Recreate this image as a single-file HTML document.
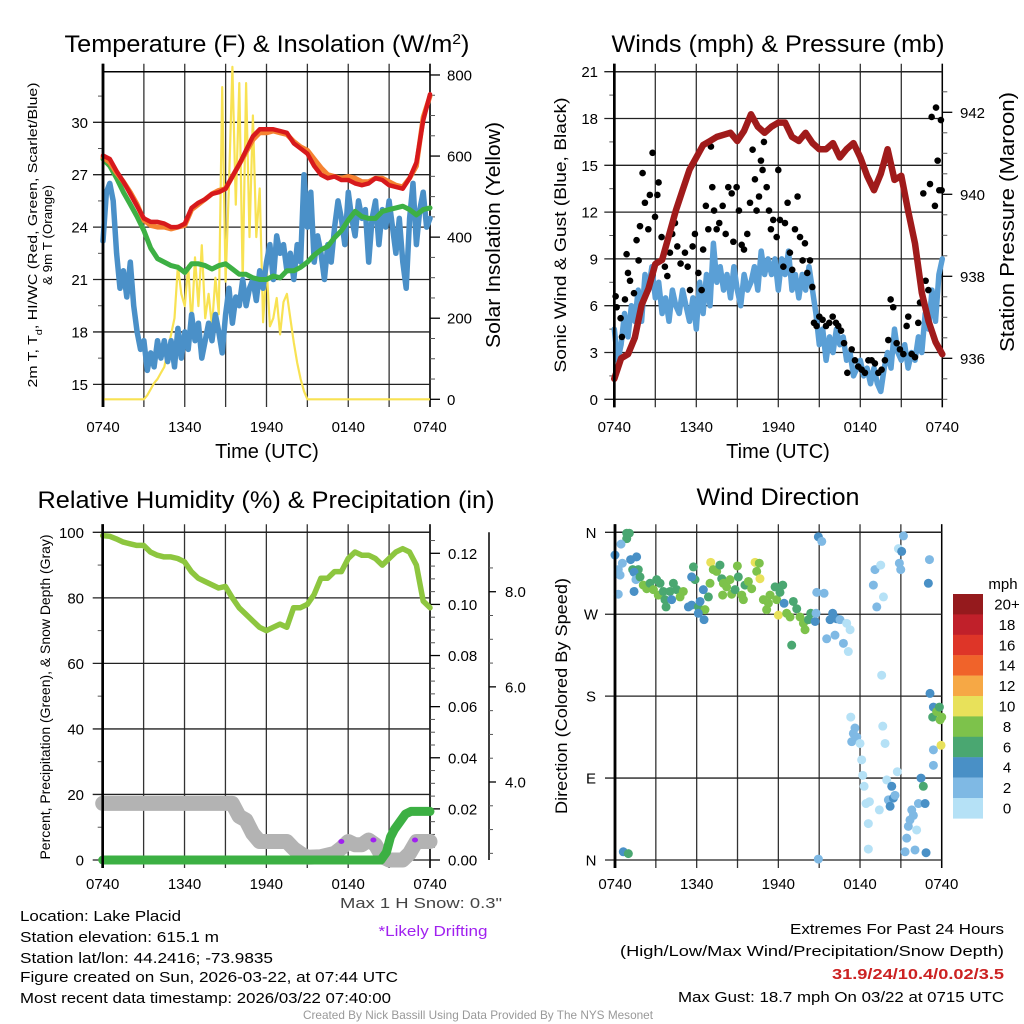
<!DOCTYPE html>
<html><head><meta charset="utf-8"><title>Lake Placid Meteogram</title>
<style>
html,body{margin:0;padding:0;background:#fff;}
svg{display:block;font-family:"Liberation Sans",Arial,sans-serif;}
</style></head>
<body>
<svg id="chart" xmlns="http://www.w3.org/2000/svg" width="1024" height="1024" viewBox="0 0 1024 1024">
<rect x="0" y="0" width="1024" height="1024" fill="#fff"/>
</svg>
<script>
// ---------- data ----------
const timeLabels = ["0740","1340","1940","0140","0740"];
const timeLabelHours = [0,6,12,18,24];
const tempT = [28.1,27.9,27.2,26.6,25.9,25.2,24.5,24.3,24.3,24.2,24.0,24.0,24.2,25.1,25.4,25.6,25.9,26.0,26.2,26.9,27.6,28.4,29.2,29.6,29.6,29.6,29.5,29.4,28.8,28.5,28.2,27.5,27.0,26.8,26.9,26.7,26.7,26.5,26.4,26.5,26.8,26.7,26.4,26.3,26.2,26.8,27.7,30.1,31.6];
const temp9m = [28.0,27.7,27.1,26.6,26.0,25.3,24.4,24.1,24.0,24.0,23.9,24.0,24.1,25.0,25.3,25.6,25.9,26.1,26.2,26.9,27.6,28.3,29.0,29.4,29.4,29.5,29.4,29.3,28.9,28.6,28.4,27.9,27.4,27.0,26.9,26.8,26.9,26.8,26.6,26.6,26.8,26.8,26.6,26.4,26.3,26.8,27.5,30.3,31.5];
const dewpoint = [27.9,27.5,26.8,26.0,25.3,24.6,23.8,22.8,22.2,22.0,21.8,21.7,21.4,21.9,21.9,21.8,21.6,21.8,21.9,21.6,21.3,21.3,21.1,21.0,21.0,21.2,21.1,21.5,21.5,21.7,22.0,22.4,22.7,22.9,23.4,23.8,24.4,24.9,24.6,24.5,24.5,24.9,25.0,25.1,25.2,25.0,24.7,25.0,25.1];
const windChill = [23.2,26,26.5,25.5,22.5,20.5,21.5,20.0,22.0,19.5,18,17,17.5,15.8,16.8,16.0,17.5,16.5,17.5,16.3,17.5,16.0,18.2,16.5,18.0,17.0,19.0,17.5,18.5,16.5,17.5,18.5,17.5,19.0,18.0,16.8,19.0,20.5,18.5,20.0,19.5,21.0,19.5,20.5,21.0,19.8,21.5,20.5,22.0,23.0,21.0,23.5,22.5,23.0,21.5,22.5,21.0,23.0,22.0,27.0,24.0,26,22,23.5,22.5,21.0,23.0,22.0,24.0,25.5,24.5,23.0,26.0,24.5,23.5,25.5,24.5,25,22.0,24.5,25.5,23.0,25.0,24.0,25.5,24.0,22.5,24.5,22.0,20.5,24.5,26.5,23.0,25.0,26.0,24.0,24.5];
const solar = [0,0,0,0,0,0,0,0,0,0,0,0,0,10,25,40,50,65,80,120,160,200,330,260,230,330,180,350,230,380,200,260,180,300,210,770,290,530,820,480,780,290,780,400,700,400,520,190,330,180,200,250,160,240,260,200,140,90,50,20,0,0,0,0,0,0,0,0,0,0,0,0,0,0,0,0,0,0,0,0,0,0,0,0,0,0,0,0,0,0,0,0,0,0,0,0,0];
const pressure = [935.5,936.0,936.1,936.5,937.3,937.7,938.3,938.4,939.0,939.6,940.1,940.6,940.9,941.2,941.3,941.4,941.45,941.5,941.3,941.55,941.95,941.65,941.5,941.65,941.75,941.75,941.4,941.3,941.5,941.25,941.1,941.1,941.25,940.9,941.1,941.25,940.9,940.45,940.1,940.5,941.1,940.35,940.45,939.6,938.8,937.6,936.9,936.4,936.1];
const sonicWind = [4.5,2.5,3.5,5.5,4,6,5,7,5,8,7,8.5,6.5,7.5,5.5,6.5,5,7,6,5.5,7,6,5,6.5,4.5,7.5,5.5,8,6,10,7.5,8.5,7,8,6.5,8.5,7,6,8,7,7.5,8.5,7,9.5,8,9,8,9,7,9,8,9.5,7,8,6.5,8,7,8.5,7,5.5,3.5,4.5,2.5,4,3,4.5,3.5,4,2.5,3,1.5,2,2.5,1.5,2,1,2,1,0.5,2,3,2,4.5,3,2.5,3.5,2,3,2.5,4,3,5.5,4.5,7,5,8,9];
const gustTimes = [0.1,0.17,0.46,0.56,0.78,0.9,1.0,1.15,1.44,1.63,1.78,1.88,2.07,2.24,2.49,2.6,2.8,2.98,3.15,3.24,3.46,3.7,3.88,4.07,4.24,4.44,4.61,4.85,5.17,5.37,5.54,5.73,5.9,6.15,6.39,6.5,6.7,6.88,7.07,7.17,7.3,7.49,7.68,7.93,8.15,8.34,8.59,8.71,8.95,9.12,9.32,9.49,9.73,9.93,10.12,10.29,10.41,10.59,10.73,10.85,10.95,11.15,11.32,11.46,11.63,11.88,12.0,12.12,12.37,12.49,12.68,12.85,13.02,13.22,13.41,13.59,13.78,13.95,14.12,14.32,14.49,14.61,14.8,15.0,15.24,15.49,15.73,15.98,16.22,16.39,16.59,16.81,17.05,17.37,17.61,17.85,18.1,18.34,18.59,18.83,19.07,19.32,19.56,19.8,20.05,20.22,20.41,20.66,20.9,21.15,21.39,21.51,21.76,22.0,22.24,22.37,22.61,22.78,22.98,23.1,23.22,23.46,23.54,23.66,23.78,23.9,23.95];
const gustValues = [6.6,5.9,5.2,4.0,6.4,9.3,8.1,7.6,6.8,10.2,8.9,11.1,14.5,12.6,10.9,13.1,15.8,11.7,13.1,13.9,10.4,8.5,7.9,9.4,10.6,11.3,9.8,8.7,9.4,8.5,7.0,9.8,10.6,8.1,7.0,9.6,12.4,10.9,16.2,13.6,12.1,10.9,11.3,12.4,10.6,13.6,13.2,10.1,13.6,12.1,9.9,9.6,10.6,12.6,16.0,14.1,12.1,13.0,15.3,14.7,16.5,13.6,12.1,10.9,11.5,10.4,14.7,11.5,8.5,11.3,12.6,9.4,8.3,10.9,13.0,10.4,8.9,10.0,8.1,8.9,7.2,4.9,4.7,5.3,5.1,4.7,4.9,5.3,4.9,4.7,4.4,3.6,1.7,3.2,2.5,2.1,1.9,1.7,2.5,2.5,2.3,1.7,1.9,2.5,3.8,6.4,5.9,3.6,3.2,2.9,4.7,5.3,2.9,2.7,4.9,6.2,13.2,7.6,7.0,13.8,18.1,12.4,18.7,15.3,13.4,17.9,13.4];
const relHum = [99,98.8,98,97,96.5,96,96,94,93,92.5,92.5,92,91,88,86,85,84,83,83.5,80,77,75,73,71,70,71,72,71,77,77,78,81,86,86,88,88,92,94,93,93,92,90,92,94,95,94,90,79,77];
const snowTimes = [0,9.5,10,10.5,11,11.5,13.5,14,14.5,15,16,17,17.5,18,18.5,19,19.5,20,20.5,21,22,22.5,23,24];
const snowDepth = [3.55,3.55,3.28,3.2,2.92,2.75,2.75,2.6,2.5,2.42,2.43,2.5,2.61,2.75,2.68,2.68,2.78,2.68,2.43,2.36,2.36,2.5,2.75,2.75];
const precipTimes = [0,20.4,20.8,21.1,21.4,21.8,22.2,22.6,24];
const precipAccum = [0,0,0.003,0.009,0.012,0.015,0.018,0.019,0.019];
const driftTimes = [17.5,19.85,22.9];
const driftDepth = [2.75,2.78,2.78];
const dirTimes = [0.0,0.86,1.05,0.86,0.44,0.24,0.37,0.54,0.24,1.15,1.59,1.3,1.71,1.4,1.54,1.84,1.4,2.08,2.33,2.57,2.82,3.06,3.31,3.18,3.55,3.67,3.75,4.04,4.29,4.53,4.78,5.02,4.16,5.39,5.63,5.76,5.88,5.63,6.12,6.25,6.49,6.61,6.12,6.54,6.86,6.98,7.03,7.22,7.47,7.71,7.84,7.96,7.91,8.2,8.45,8.57,8.82,8.99,9.06,9.31,9.43,9.55,9.8,10.04,10.29,10.41,10.6,10.65,10.9,11.14,11.27,11.39,11.76,11.88,12.0,12.12,12.32,12.42,12.61,12.86,12.98,13.1,13.35,13.59,13.84,13.96,14.21,14.38,14.7,14.77,14.82,14.94,15.19,15.36,15.55,15.8,15.99,16.29,16.16,16.53,16.78,17.02,17.14,17.27,14.94,0.61,0.98,17.32,17.63,17.51,17.76,17.39,18.0,18.12,18.2,18.3,18.44,18.69,18.61,18.61,18.98,19.1,19.23,19.52,19.72,19.59,19.67,19.84,19.96,19.42,20.08,20.33,20.45,20.21,20.57,20.74,20.89,20.82,21.06,20.99,21.19,21.31,21.43,21.55,21.67,21.8,21.92,22.04,22.16,22.29,22.48,22.65,22.78,22.85,23.02,23.1,23.14,23.39,23.34,23.63,23.83,23.88,24.0,23.39,23.39,23.95];
const dirDegrees = [335,359,359,353,347,319,313,326,292,330,333,319,319,316,308,311,295,302,298,304,297,308,304,291,295,286,278,295,304,297,289,295,286,278,280,322,308,311,278,284,297,275,271,264,289,304,327,319,317,324,309,304,291,300,308,292,297,323,311,291,286,302,306,298,327,317,326,309,286,275,282,291,300,286,269,294,302,282,271,267,236,284,276,267,260,253,264,271,262,271,294,355,350,293,243,264,271,265,247,264,238,260,229,253,1,9,7,157,145,139,135,130,128,110,93,81,62,64,40,12,302,319,278,324,289,203,147,128,88,55,66,81,68,59,71,97,326,342,339,319,356,9,24,37,44,55,49,11,33,62,90,81,62,8,304,330,183,168,157,163,168,154,157,121,104,126];
const dirSpeed = [5,7,7,7,3,3,3,3,3,5,5,7,7,5,3,7,5,9,9,7,9,7,7,9,7,7,7,7,7,7,9,9,5,5,5,7,7,5,7,5,5,9,5,5,7,9,11,9,9,7,7,9,9,9,9,9,7,9,7,9,9,7,9,9,11,9,9,11,9,9,9,9,7,9,11,7,7,5,9,9,7,7,7,9,9,9,7,7,5,3,3,5,3,3,3,5,5,5,3,3,3,1,1,1,3,5,7,1,3,3,3,3,1,1,1,1,1,1,1,1,3,3,3,1,1,1,1,1,1,1,3,5,5,5,3,1,3,1,5,3,3,3,3,3,3,3,3,3,1,3,5,7,5,5,5,3,5,5,7,9,7,9,9,3,3,11];
const speedBinLabels = ["20+","18","16","14","12","10","8","6","4","2","0"];
const speedBinColors = ["#951a1d","#c0202a","#de3528","#f0632a","#f6a845","#e8e15a","#7dc24b","#4aa771","#4990c6","#7fb9e4","#b5e1f6"];

// ---------- helpers ----------
const NS = "http://www.w3.org/2000/svg";
const svg = document.getElementById("chart");
function mk(tag, attrs, parent){
  const e = document.createElementNS(NS, tag);
  for (const k in attrs) e.setAttribute(k, attrs[k]);
  (parent || svg).appendChild(e);
  return e;
}
function txt(x, y, s, size, anchor, parent, fill){
  const e = mk("text", {x:x, y:y, "font-size":size, "text-anchor":anchor||"start", fill:fill||"#000"}, parent);
  e.textContent = s;
  return e;
}
function vtxt(x, y, s, size, len, parent){
  const e = mk("text", {x:x, y:y, "font-size":size, "text-anchor":"middle", transform:"rotate(-90 "+x+" "+y+")", textLength:len, lengthAdjust:"spacingAndGlyphs"}, parent);
  e.textContent = s;
  return e;
}
function pathFrom(xs, ys){
  let d = "";
  for (let i = 0; i < xs.length; i++) d += (i ? "L" : "M") + xs[i].toFixed(1) + "," + ys[i].toFixed(1);
  return d;
}
function regTimes(n){ const step = 24/(n-1); const a=[]; for(let i=0;i<n;i++) a.push(i*step); return a; }

// panel geometry
const P1 = {L:103, R:430, T:71.7, B:399};
const P2 = {L:614.3, R:942.3, T:71.7, B:399.3};
const P3 = {L:102.7, R:430, T:532.3, B:860};
const P4 = {L:615, R:941.7, T:532.3, B:860};
function xAxis(P){ return t => P.L + t/24*(P.R-P.L); }

function drawFrame(P, g, labelY){
  for (let t = 0; t <= 24; t += 3){
    const x = xAxis(P)(t);
    const l = mk("line", {x1:x, x2:x, y1:P.T-8, y2:P.B+8, stroke:(t===0?"#000":"#333"), "stroke-width":(t===0?2.6:1.3)}, g);
    
    
  }
  for (let i = 0; i < timeLabels.length; i++){
    const lb = txt(xAxis(P)(timeLabelHours[i]), labelY, timeLabels[i], 15, "middle", g);
    
    
  }
  const top = mk("line", {x1:P.L, x2:P.R, y1:P.T, y2:P.T, stroke:"#000", "stroke-width":1.5}, g);
  
  
  const rt = mk("line", {x1:P.R, x2:P.R, y1:P.T-8, y2:P.B+8, stroke:"#000", "stroke-width":1.5}, g);
  
  
}
function hGrid(P, g, y, labelText, labelX, anchor){
  const l = mk("line", {x1:P.L-10, x2:P.R, y1:y, y2:y, stroke:"#222", "stroke-width":1.3}, g);
  
  
  const t = txt(labelX, y+5.5, labelText, 15, anchor||"end", g);
  
  
}
function minorTick(x1, x2, y, g){
  const l = mk("line", {x1:x1, x2:x2, y1:y, y2:y, stroke:"#555", "stroke-width":1}, g);
  
  
}
function majorTick(x1, x2, y, g){
  const l = mk("line", {x1:x1, x2:x2, y1:y, y2:y, stroke:"#000", "stroke-width":1.3}, g);
  
  
}
function title(x, y, s, len, g){
  const t = mk("text", {x:x, y:y, "font-size":24, "text-anchor":"middle", textLength:len, lengthAdjust:"spacingAndGlyphs"}, g);
  t.textContent = s;
  return t;
}

// ================= PANEL 1: Temperature =================
const g1 = mk("g", {});


const x1 = xAxis(P1);
const yTemp = v => 122.3 + (30 - v) * 17.47;
const ySol = v => 399.3 - v * 0.4054;
drawFrame(P1, g1, 432);
for (let v = 15; v <= 30; v += 3) hGrid(P1, g1, yTemp(v), String(v), 88);
for (let v = 15; v <= 33; v += 1.5) if (v % 3) minorTick(P1.L-5, P1.L, yTemp(v), g1);
for (let v = 0; v <= 800; v += 50){
  if (v % 200 === 0){
    majorTick(P1.R, P1.R+10, ySol(v), g1);
    const t = txt(447, ySol(v)+5.5, String(v), 15, "start", g1);
    
    
  } else minorTick(P1.R, P1.R+5, ySol(v), g1);
}
{
  const ts = regTimes(solar.length);
  const pS = mk("path", {d:pathFrom(ts.map(x1), solar.map(ySol)), fill:"none", stroke:"#f8e253", "stroke-width":2.2, "stroke-linejoin":"round"}, g1);
  
  
  const tw = regTimes(windChill.length);
  const pW = mk("path", {d:pathFrom(tw.map(x1), windChill.map(yTemp)), fill:"none", stroke:"#4a90c8", "stroke-width":5.5, "stroke-linejoin":"round", "stroke-linecap":"round"}, g1);
  
  
  const td = regTimes(dewpoint.length);
  const pD = mk("path", {d:pathFrom(td.map(x1), dewpoint.map(yTemp)), fill:"none", stroke:"#3db044", "stroke-width":5, "stroke-linejoin":"round", "stroke-linecap":"round"}, g1);
  
  
  const t9 = regTimes(temp9m.length);
  const pO = mk("path", {d:pathFrom(t9.map(x1), temp9m.map(yTemp)), fill:"none", stroke:"#f58231", "stroke-width":5, "stroke-linejoin":"round", "stroke-linecap":"round"}, g1);
  
  
  const tt = regTimes(tempT.length);
  const pR = mk("path", {d:pathFrom(tt.map(x1), tempT.map(yTemp)), fill:"none", stroke:"#d7191c", "stroke-width":4.5, "stroke-linejoin":"round", "stroke-linecap":"round"}, g1);
  
  
}
{
  const lf = mk("line", {x1:P1.L, x2:P1.L, y1:P1.T-8, y2:P1.B+8, stroke:"#000", "stroke-width":2.6}, g1);
  
  
  const t = title(267, 52, "", 405, g1);
  t.innerHTML = 'Temperature (F) &amp; Insolation (W/m<tspan baseline-shift="super" font-size="15">2</tspan>)';
  
  
  const yl = mk("text", {x:37, y:235, "font-size":13, "text-anchor":"middle", transform:"rotate(-90 37 235)", textLength:305, lengthAdjust:"spacingAndGlyphs"}, g1);
  yl.innerHTML = '2m T, T<tspan baseline-shift="sub" font-size="9">d</tspan>, HI/WC (Red, Green, Scarlet/Blue)';
  
  
  const yl2 = vtxt(52, 235, "& 9m T (Orange)", 13, 100, g1);
  
  
  const yr = vtxt(500, 235, "Solar Insolation (Yellow)", 20, 226, g1);
  
  
  const xt = txt(267, 458, "Time (UTC)", 20, "middle", g1);
  
  
}

// ================= PANEL 2: Winds =================
const g2 = mk("g", {});


const x2 = xAxis(P2);
const yWind = v => 399.3 - v * 15.6;
const yPres = v => 358.3 - (v - 936) * 41;
drawFrame(P2, g2, 432);
for (let v = 0; v <= 21; v += 3) hGrid(P2, g2, yWind(v), String(v), 598);
for (let v = 1.5; v <= 21; v += 3) minorTick(P2.L-5, P2.L, yWind(v), g2);
for (let v = 935; v <= 943; v += 0.5){
  const y = yPres(v);
  if (y < P2.T || y > P2.B) continue;
  if (v % 2 === 0){
    majorTick(P2.R, P2.R+10, y, g2);
    const t = txt(960, y+5.5, String(v), 15, "start", g2);
    
    
  } else minorTick(P2.R, P2.R+5, y, g2);
}
{
  const tw = regTimes(sonicWind.length);
  const pw = mk("path", {d:pathFrom(tw.map(x2), sonicWind.map(yWind)), fill:"none", stroke:"#5a9fd6", "stroke-width":5.5, "stroke-linejoin":"round", "stroke-linecap":"round"}, g2);
  
  
  for (let i = 0; i < gustTimes.length; i++){
    const c = mk("circle", {cx:x2(gustTimes[i]), cy:yWind(gustValues[i]), r:3.3, fill:"#000"}, g2);
    
    
  }
  const tp = regTimes(pressure.length);
  const pp = mk("path", {d:pathFrom(tp.map(x2), pressure.map(yPres)), fill:"none", stroke:"#a01b1b", "stroke-width":6.5, "stroke-linejoin":"round", "stroke-linecap":"round"}, g2);
  
  
  const lf = mk("line", {x1:P2.L, x2:P2.L, y1:P2.T-8, y2:P2.B+8, stroke:"#000", "stroke-width":2.6}, g2);
  
  
  const t = title(778, 52, "Winds (mph) & Pressure (mb)", 333, g2);
  
  
  const yl = vtxt(566, 235, "Sonic Wind & Gust (Blue, Black)", 17, 275, g2);
  
  
  const yr = vtxt(1014, 222, "Station Pressure (Maroon)", 20, 260, g2);
  
  
  const xt = txt(778, 458, "Time (UTC)", 20, "middle", g2);
  
  
}

// ================= PANEL 3: RH & Precip =================
const g3 = mk("g", {});


const x3 = xAxis(P3);
const yRH = v => 860 - v * 3.277;
const yPr = v => 860 - v * 2555.8;
const ySn = v => 782 - (v - 4) * 47.57;
drawFrame(P3, g3, 889);
for (let v = 0; v <= 100; v += 20) hGrid(P3, g3, yRH(v), String(v), 84);
for (let v = 10; v <= 100; v += 20) minorTick(P3.L-5, P3.L, yRH(v), g3);
for (let k = 0; k <= 25; k++){
  const v = k * 0.005;
  const y = yPr(v);
  if (y < P3.T) continue;
  if (k % 4 === 0){
    majorTick(P3.R, P3.R+10, y, g3);
    const t = txt(448, y+5.5, v.toFixed(2), 15, "start", g3);
    
    
  } else minorTick(P3.R, P3.R+5, y, g3);
}
{
  const ax = mk("line", {x1:489, x2:489, y1:P3.T, y2:P3.B, stroke:"#000", "stroke-width":1.5}, g3);
  
  
  for (let k = 5; k <= 17; k++){
    const v = k * 0.5;
    const y = ySn(v);
    if (y < P3.T || y > P3.B) continue;
    if (k % 4 === 0){
      majorTick(489, 496, y, g3);
      const t = txt(505, y+5.5, v.toFixed(1), 15, "start", g3);
      
      
    } else minorTick(489, 493, y, g3);
  }
}
{
  const ps = mk("path", {d:pathFrom(snowTimes.map(x3), snowDepth.map(ySn)), fill:"none", stroke:"#b3b3b3", "stroke-width":15, "stroke-linejoin":"round", "stroke-linecap":"round"}, g3);
  
  
  for (let i = 0; i < driftTimes.length; i++){
    const e = mk("ellipse", {cx:x3(driftTimes[i]), cy:ySn(driftDepth[i]), rx:3, ry:2.5, fill:"#a020f0"}, g3);
    
    
  }
  const pp = mk("path", {d:pathFrom(precipTimes.map(x3), precipAccum.map(yPr)), fill:"none", stroke:"#3cb043", "stroke-width":9, "stroke-linejoin":"round", "stroke-linecap":"round"}, g3);
  
  
  const tr = regTimes(relHum.length);
  const pr = mk("path", {d:pathFrom(tr.map(x3), relHum.map(yRH)), fill:"none", stroke:"#8dc63f", "stroke-width":5.5, "stroke-linejoin":"round", "stroke-linecap":"round"}, g3);
  
  
  const lf = mk("line", {x1:P3.L, x2:P3.L, y1:P3.T-8, y2:P3.B+8, stroke:"#000", "stroke-width":2.6}, g3);
  
  
  const t = title(266, 508, "Relative Humidity (%) & Precipitation (in)", 457, g3);
  
  
  const yl = vtxt(50, 697, "Percent, Precipitation (Green), & Snow Depth (Gray)", 14, 325, g3);
  
  
}

// ================= PANEL 4: Wind Direction =================
const g4 = mk("g", {});


const x4 = xAxis(P4);
const yDir = v => 860 - v * 0.9103;
const dirLabels = ["N","E","S","W","N"];
const dirLabelDegrees = [0,90,180,270,360];
drawFrame(P4, g4, 889);
for (let i = 0; i < dirLabels.length; i++) hGrid(P4, g4, yDir(dirLabelDegrees[i]), dirLabels[i], 591, "middle");
function speedColor(s){
  const bin = Math.min(10, Math.floor(s / 2));
  return speedBinColors[10 - bin];
}
for (let i = 0; i < dirTimes.length; i++){
  const c = mk("circle", {cx:x4(dirTimes[i]), cy:yDir(dirDegrees[i]), r:4.5, fill:speedColor(dirSpeed[i])}, g4);
  
  
}
{
  const lf = mk("line", {x1:P4.L, x2:P4.L, y1:P4.T-8, y2:P4.B+8, stroke:"#000", "stroke-width":2.6}, g4);
  
  
  const t = title(778, 505, "Wind Direction", 163, g4);
  
  
  const yl = vtxt(567, 696, "Direction (Colored By Speed)", 17, 236, g4);
  
  
  const cb = mk("g", {}, g4);
  
  
  const unit = txt(1003, 589, "mph", 15, "middle", cb);
  
  
  for (let i = 0; i < speedBinColors.length; i++){
    const r = mk("rect", {x:953, y:594 + i*20.4, width:30, height:20.6, fill:speedBinColors[i]}, cb);
    
    
    const l = txt(1007, 594 + i*20.4 + 15.5, speedBinLabels[i], 15, "middle", cb);
    
    
  }
}

// ================= Footer text =================
const gf = mk("g", {});


function ftxt(x, y, s, len, anchor, fill, size, weight){
  const e = mk("text", {x:x, y:y, "font-size":size||15, "text-anchor":anchor, fill:fill||"#000", textLength:len, lengthAdjust:"spacingAndGlyphs", "font-weight":weight||"normal"}, gf);
  e.textContent = s;
  return e;
}
let f;
f = ftxt(421, 908, "Max 1 H Snow: 0.3\"", 162, "middle", "#444");


f = ftxt(433, 936, "*Likely Drifting", 109, "middle", "#a020f0");


f = ftxt(20, 921, "Location: Lake Placid", 161, "start");


f = ftxt(20, 942, "Station elevation: 615.1 m", 199, "start");


f = ftxt(20, 963, "Station lat/lon: 44.2416; -73.9835", 253, "start");


f = ftxt(20, 982, "Figure created on Sun, 2026-03-22, at 07:44 UTC", 378, "start");


f = ftxt(20, 1003, "Most recent data timestamp: 2026/03/22 07:40:00", 371, "start");


f = ftxt(1004, 934, "Extremes For Past 24 Hours", 214, "end");


f = ftxt(1004, 956, "(High/Low/Max Wind/Precipitation/Snow Depth)", 384, "end");


f = ftxt(1004, 979, "31.9/24/10.4/0.02/3.5", 172, "end", "#cc2222", 15, "bold");


f = ftxt(1004, 1002, "Max Gust: 18.7 mph On 03/22 at 0715 UTC", 326, "end");


f = ftxt(478, 1019, "Created By Nick Bassill Using Data Provided By The NYS Mesonet", 350, "middle", "#999", 12);


</script>
</body></html>
